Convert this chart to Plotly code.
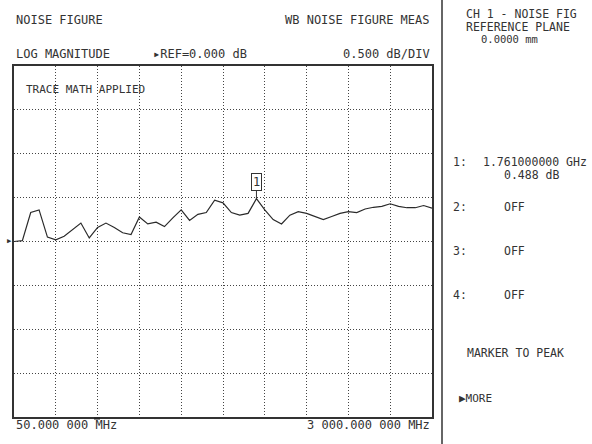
"""Network analyzer noise figure screen, rebuilt with Plotly."""

import plotly.graph_objects as go

# Sweep: 51 points, 50 MHz .. 3000 MHz
FREQ_MHZ = [
    50, 109, 168, 227, 286, 345, 404, 463, 522, 581,
    640, 699, 758, 817, 876, 935, 994, 1053, 1112, 1171,
    1230, 1289, 1348, 1407, 1466, 1525, 1584, 1643, 1702, 1761,
    1820, 1879, 1938, 1997, 2056, 2115, 2174, 2233, 2292, 2351,
    2410, 2469, 2528, 2587, 2646, 2705, 2764, 2823, 2882, 2941,
    3000,
]
NOISE_DB = [
    0.00, 0.01, 0.33, 0.36, 0.05, 0.02, 0.06, 0.13, 0.21, 0.04,
    0.16, 0.21, 0.16, 0.10, 0.08, 0.28, 0.20, 0.22, 0.17, 0.27,
    0.36, 0.24, 0.31, 0.33, 0.47, 0.44, 0.33, 0.30, 0.32, 0.488,
    0.36, 0.25, 0.20, 0.30, 0.34, 0.32, 0.285, 0.25, 0.285, 0.32,
    0.34, 0.33, 0.37, 0.39, 0.40, 0.43, 0.40, 0.385, 0.385, 0.41,
    0.38,
]
MARKER_FREQ = 1761
MARKER_DB = 0.488

START_MHZ, STOP_MHZ = 50, 3000
REF_DB, DB_PER_DIV = 0.0, 0.5

INK = "#333333"
FONT = "DejaVu Sans Mono"

fig = go.Figure()

fig.add_trace(go.Scatter(
    x=FREQ_MHZ,
    y=NOISE_DB,
    mode="lines",
    line=dict(color="#2a2a2a", width=1.2),
    showlegend=False,
    hoverinfo="skip",
))

grid = dict(
    showgrid=True,
    gridcolor="#444444",
    griddash="1px,2px",
    gridwidth=1,
    showticklabels=False,
    ticks="",
    zeroline=False,
    showline=True,
    mirror=True,
    linecolor=INK,
    linewidth=1.5,
    fixedrange=True,
)

fig.update_layout(
    width=592,
    height=444,
    margin=dict(l=14, r=160, t=66, b=27),
    paper_bgcolor="white",
    plot_bgcolor="white",
    font=dict(family=FONT, size=12, color=INK),
    xaxis=dict(range=[START_MHZ, STOP_MHZ], tick0=START_MHZ,
               dtick=(STOP_MHZ - START_MHZ) / 10, **grid),
    yaxis=dict(range=[REF_DB - 4 * DB_PER_DIV, REF_DB + 4 * DB_PER_DIV],
               tick0=REF_DB, dtick=DB_PER_DIV, **grid),
)


def label(text, x, y, anchor="left", size=12, xref="paper", yref="paper"):
    fig.add_annotation(
        text=text, x=x, y=y, xref=xref, yref=yref,
        xanchor=anchor, yanchor="middle", showarrow=False,
        font=dict(family=FONT, size=size, color=INK),
    )


def px_x(px):
    # screen pixel -> paper x
    return (px - 14) / 418


def px_y(py):
    # screen pixel -> paper y
    return (417 - py) / 351


# header texts
label("NOISE FIGURE", px_x(14), px_y(19.5))
label("WB NOISE FIGURE MEAS", px_x(432), px_y(19.5), anchor="right")
label("LOG MAGNITUDE", px_x(14), px_y(54))
label("\u25b8REF=0.000 dB", px_x(151), px_y(54))
label("0.500 dB/DIV", px_x(432), px_y(54), anchor="right")
label("TRACE MATH APPLIED", px_x(24), px_y(89.5), size=11)

# footer
label("50.000 000 MHz", px_x(14), px_y(425))
label("3 000.000 000 MHz", px_x(432), px_y(425), anchor="right")

# right panel
label("CH 1 - NOISE FIG", px_x(464), px_y(14), size=11.5)
label("REFERENCE PLANE", px_x(464), px_y(27), size=11.5)
label("0.0000 mm", px_x(479), px_y(39), size=10.5)
label("1:", px_x(451), px_y(162), size=11.5)
label("1.761000000 GHz", px_x(481), px_y(162), size=11.5)
label("0.488 dB", px_x(502), px_y(175), size=11.5)
for num, ypos in [(2, 207), (3, 251), (4, 295)]:
    label(f"{num}:", px_x(451), px_y(ypos), size=11.5)
    label("OFF", px_x(502), px_y(ypos), size=11.5)
label("MARKER TO PEAK", px_x(465), px_y(353), size=11.5)
label("\u25b6MORE", px_x(457), px_y(398), size=11)

# reference level arrow at the left edge
label("\u25b6", px_x(14), px_y(241), anchor="right", size=7)

# marker 1 flag
fig.add_annotation(
    x=MARKER_FREQ, y=MARKER_DB, xref="x", yref="y",
    text="1", showarrow=True, arrowhead=0, arrowwidth=1, arrowcolor=INK,
    ax=0, ay=-17, bordercolor=INK, borderwidth=1, borderpad=1,
    bgcolor="white", font=dict(family=FONT, size=12, color=INK),
)

# panel separator and small bottom indicator
fig.add_shape(type="line", xref="paper", yref="paper",
              x0=px_x(442), x1=px_x(442), y0=px_y(0), y1=px_y(444),
              line=dict(color="#666666", width=2))
fig.add_shape(type="line", xref="paper", yref="paper",
              x0=px_x(94), x1=px_x(100), y0=px_y(418.5), y1=px_y(418.5),
              line=dict(color="#222222", width=2))

fig.write_html(
    "out.html",
    config={"displayModeBar": False},
    post_script="document.body.style.margin='0px';",
)
